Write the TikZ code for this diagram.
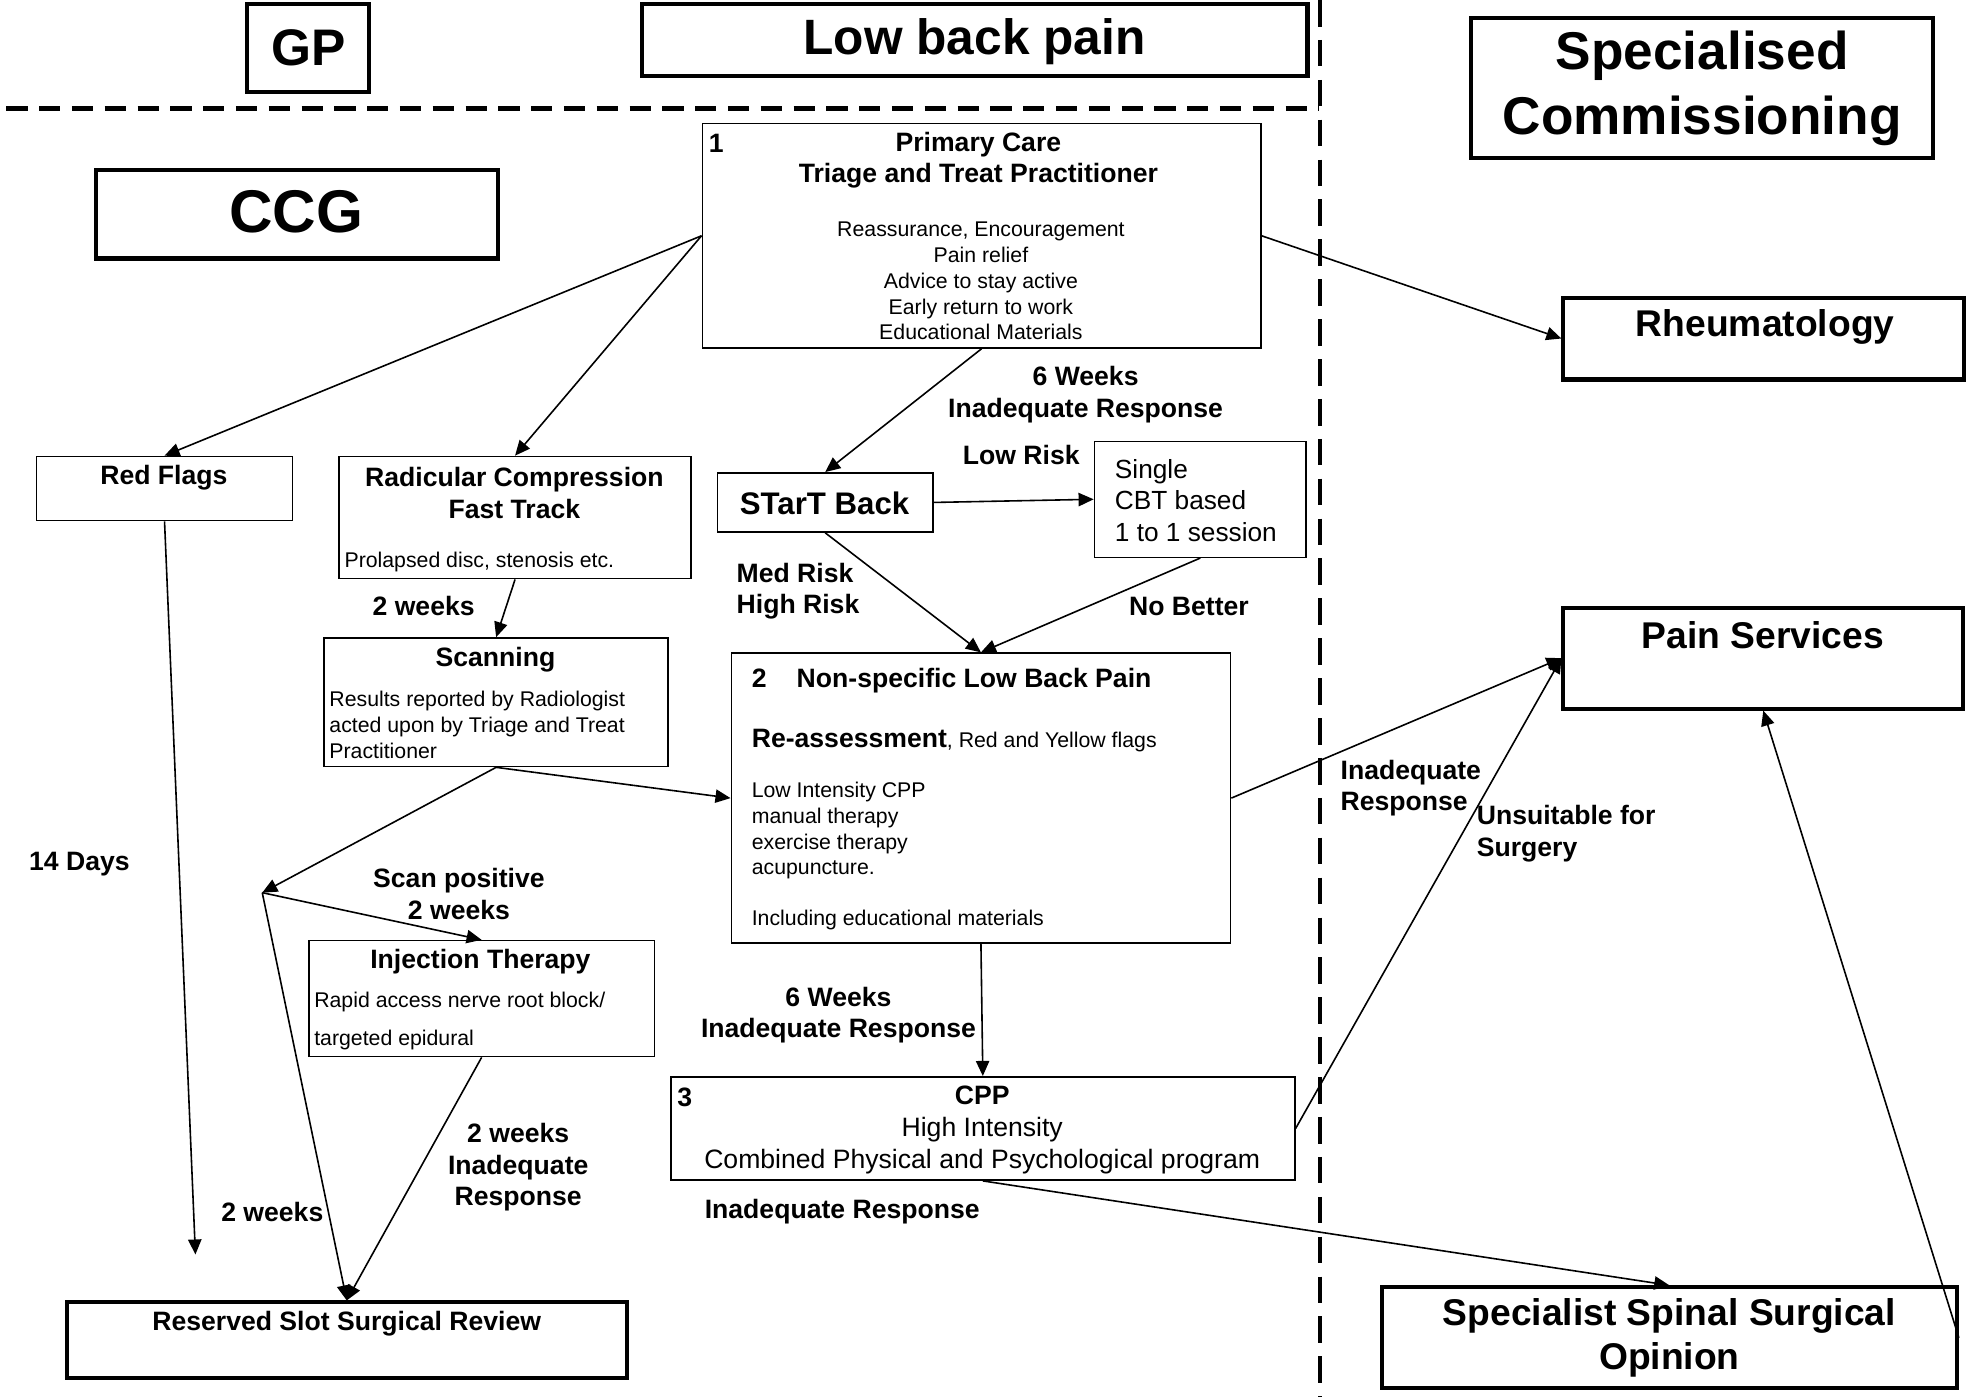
\documentclass[tikz,border=0pt]{standalone}
\usepackage{fontspec}
\setmainfont{Liberation Sans}
\usetikzlibrary{arrows.meta,fit}

\begin{document}
\begin{tikzpicture}[x=0.025cm,y=-0.025cm,
  heavybox/.style={draw, line width=2.3pt, inner sep=0pt},
  lightbox/.style={draw, line width=0.85pt, inner sep=0pt},
  head/.style={font=\fontsize{29}{35}\selectfont\bfseries, align=center, inner sep=0pt},
  unit/.style={font=\fontsize{21}{25}\selectfont\bfseries, align=center, inner sep=0pt},
  lab/.style={font=\fontsize{15}{17.8}\selectfont\bfseries, align=center, inner sep=0pt},
  body/.style={font=\fontsize{12}{14.5}\selectfont, align=left, inner sep=0pt},
  arr/.style={draw, line width=0.9pt, -{Triangle[length=8.5pt,width=7.5pt]}},
  zone/.style={line width=2.4pt, dash pattern=on 12pt off 6.5pt}]
\useasboundingbox (0,0) rectangle (1568,1108);

% zone borders
\coordinate (h1) at (5,86);
\coordinate (h2) at (1046,86);
\coordinate (v1) at (1047,0);
\coordinate (v2) at (1047,1108);
\draw[zone] (h1) -- (h2);
\draw[zone, dash pattern=on 15pt off 7.5pt] (v1) -- (v2);

% headers
\node[heavybox, fit={(196,3) (293,73)}] (gp) {};
\node[head] (gp-t) at (244.5,38) {GP};
\node[heavybox, fit={(509,3) (1037,60)}] (lbp) {};
\node[head, font=\fontsize{28}{34}\selectfont\bfseries] (lbp-t) at (773,33) {Low back pain};
\node[heavybox, fit={(1167,14) (1533,125)}] (sc) {};
\node[head, font=\fontsize{30}{36.3}\selectfont\bfseries] (sc-t) at (1350,70) {Specialised\\Commissioning};
\node[heavybox, fit={(76,135) (395,205)}] (ccg) {};
\node[head, font=\fontsize{34}{40}\selectfont\bfseries] (ccg-t) at (235,168) {CCG};

% 1 primary care
\node[lightbox, fit={(557,98) (1000,276)}] (pc) {};
\node[lab, anchor=west] (pc-n) at (562,114) {1};
\node[lab] (pc-t) at (776,127) {Primary Care\\Triage and Treat Practitioner};
\node[body, align=center] (pc-b) at (778,223) {Reassurance, Encouragement\\Pain relief\\Advice to stay active\\Early return to work\\Educational Materials};

% left column
\node[lightbox, fit={(29,362) (232,413)}] (rf) {};
\node[lab] (rf-t) at (130,379) {Red Flags};
\node[lightbox, fit={(269,362) (548,459)}] (rc) {};
\node[lab] (rc-t) at (408,391) {Radicular Compression\\Fast Track};
\node[body, anchor=west] (rc-b) at (273,446) {Prolapsed disc, stenosis etc.};
\node[lightbox, fit={(257,506) (530,608)}] (scan) {};
\node[lab] (scan-t) at (393,523) {Scanning};
\node[body, anchor=west] (scan-b) at (261,575) {Results reported by Radiologist\\acted upon by Triage and Treat\\Practitioner};
\coordinate (split) at (208,708);
\node[lightbox, fit={(245,746) (519,838)}] (inj) {};
\node[lab] (inj-t) at (381,763) {Injection Therapy};
\node[body, anchor=west] (inj-b1) at (249,795) {Rapid access nerve root block/};
\node[body, anchor=west] (inj-b2) at (249,825) {targeted epidural};
\coordinate (rf-end) at (155,995);
\node[heavybox, fit={(53,1033) (497,1093)}] (rs) {};
\node[lab] (rs-t) at (275,1050) {Reserved Slot Surgical Review};

% middle column
\node[lightbox, fit={(569,375) (740,422)}] (sb) {};
\node[lab, font=\fontsize{17.6}{20}\selectfont\bfseries] (sb-t) at (654,399) {STarT Back};
\node[lightbox, fit={(868,350) (1036,442)}] (cbt) {};
\node[body, anchor=west, font=\fontsize{14.8}{17.8}\selectfont] (cbt-t) at (884,397) {Single\\CBT based\\1 to 1 session};
\node[lightbox, fit={(580,518) (976,748)}] (nsp) {};
\node[lab, anchor=west] (nsp-t) at (596,540) {2\hspace{17pt}Non-specific Low Back Pain};
\node[body, anchor=west] (nsp-r) at (596,587) {{\fontsize{15}{18}\selectfont\bfseries Re-assessment}, Red and Yellow flags};
\node[body, anchor=west] (nsp-b) at (596,659) {Low Intensity CPP\\manual therapy\\exercise therapy\\acupuncture.};
\node[body, anchor=west] (nsp-e) at (596,730) {Including educational materials};
\node[lightbox, fit={(532,854) (1027,936)}] (cpp) {};
\node[lab, anchor=west] (cpp-n) at (537,870) {3};
\node[lab, font=\fontsize{15}{18.1}\selectfont] (cpp-t) at (779,896) {\textbf{CPP}\\High Intensity\\Combined Physical and Psychological program};

% specialised services
\node[heavybox, fit={(1240,236) (1558,301)}] (rh) {};
\node[unit] (rh-t) at (1400,259) {Rheumatology};
\node[heavybox, fit={(1240,482) (1557,562)}] (ps) {};
\node[unit] (ps-t) at (1398,504) {Pain Services};
\node[heavybox, fit={(1096,1021) (1552,1101)}] (ss) {};
\node[unit] (ss-t) at (1324,1061) {Specialist Spinal Surgical\\Opinion};

% connector labels
\node[lab] (l1) at (861,313) {6 Weeks\\Inadequate Response};
\node[lab] (l2) at (810,361) {Low Risk};
\node[lab, anchor=west, align=left] (l3) at (584,469) {Med Risk\\High Risk};
\node[lab] (l4) at (943,481) {No Better};
\node[lab] (l5) at (336,481) {2 weeks};
\node[lab] (l6) at (63,685) {14 Days};
\node[lab] (l7) at (364,709) {Scan positive\\2 weeks};
\node[lab] (l8) at (665,805) {6 Weeks\\Inadequate Response};
\node[lab] (l9) at (411,926) {2 weeks\\Inadequate\\Response};
\node[lab] (l10) at (216,961) {2 weeks};
\node[lab] (l11) at (668,961) {Inadequate Response};
\node[lab, anchor=west, align=left] (l12) at (1063,625) {Inadequate\\Response};
\node[lab, anchor=west, align=left] (l13) at (1171,661) {Unsuitable for\\Surgery};

% connectors
\path[arr] (pc.west) -- (rf.north);
\path[arr] (pc.west) -- (rc.north);
\path[arr] (pc.south) -- (sb.north);
\path[arr] (pc.east) -- (rh.west);
\path[arr] (sb.east) -- (cbt.west);
\path[arr] (sb.south) -- (nsp.north);
\path[arr] (cbt.south) -- (nsp.north);
\path[arr] (rf.south) -- (rf-end);
\path[arr] (rc.south) -- (scan.north);
\path[arr] (scan.south) -- (nsp.west);
\path[arr] (scan.south) -- (split);
\path[arr] (split) -- (inj.north);
\path[arr] (split) -- (rs.north);
\path[arr] (inj.south) -- (rs.north);
\path[arr] (nsp.south) -- (cpp.north);
\path[arr] (nsp.east) -- (ps.west);
\path[arr] (cpp.east) -- (ps.west);
\path[arr] (cpp.south) -- (ss.north);
\path[arr] (ss.east) -- (ps.south);
\end{tikzpicture}
\end{document}
